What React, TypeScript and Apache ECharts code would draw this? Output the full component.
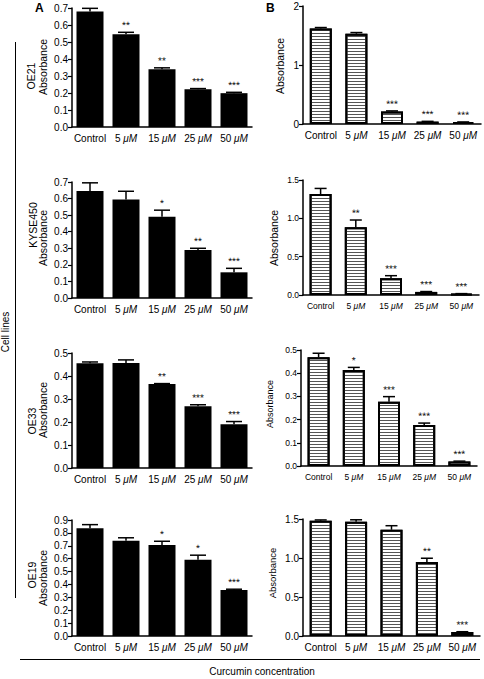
import React, { useEffect, useRef } from "react";
import * as echarts from "echarts";

const categories = ["Control", "5 μM", "15 μM", "25 μM", "50 μM"];

// Panel A (black bars): MTT absorbance
const oe21A = [0.68, 0.545, 0.34, 0.222, 0.199];
const oe21AErr = [0.018, 0.012, 0.008, 0.004, 0.005];
const oe21AStars = ["", "**", "**", "***", "***"];

const kyseA = [0.645, 0.594, 0.49, 0.29, 0.155];
const kyseAErr = [0.05, 0.05, 0.04, 0.01, 0.024];
const kyseAStars = ["", "", "*", "**", "***"];

const oe33A = [0.455, 0.457, 0.365, 0.268, 0.19];
const oe33AErr = [0.006, 0.013, 0.002, 0.007, 0.012];
const oe33AStars = ["", "", "**", "***", "***"];

const oe19A = [0.836, 0.739, 0.706, 0.592, 0.357];
const oe19AErr = [0.028, 0.023, 0.029, 0.035, 0.006];
const oe19AStars = ["", "", "*", "*", "***"];

// Panel B (striped bars)
const oe21B = [1.62, 1.53, 0.21, 0.04, 0.03];
const oe21BErr = [0.015, 0.02, 0.012, 0.005, 0.005];
const oe21BStars = ["", "", "***", "***", "***"];

const kyseB = [1.317, 0.883, 0.217, 0.04, 0.015];
const kyseBErr = [0.073, 0.095, 0.035, 0.005, 0.003];
const kyseBStars = ["", "**", "***", "***", "***"];

const oe33B = [0.469, 0.414, 0.277, 0.177, 0.019];
const oe33BErr = [0.017, 0.011, 0.022, 0.008, 0.002];
const oe33BStars = ["", "*", "***", "***", "***"];

const oe19B = [1.478, 1.465, 1.362, 0.95, 0.052];
const oe19BErr = [0.01, 0.025, 0.052, 0.047, 0.003];
const oe19BStars = ["", "", "", "**", "***"];

const cellLines = ["OE21", "KYSE450", "OE33", "OE19"];

// y-axis ranges per panel
const yMaxA = [0.7, 0.7, 0.5, 0.9];
const yStepA = [0.1, 0.1, 0.1, 0.1];
const yMaxB = [2, 1.5, 0.5, 1.5];
const yStepB = [1, 0.5, 0.1, 0.5];

const FONT = "Liberation Sans, Arial, Helvetica, sans-serif";

export default function App() {
  const ref = useRef<HTMLDivElement>(null);

  useEffect(() => {
    if (!ref.current) return;
    document.body.style.margin = "0";
    const chart = echarts.init(ref.current, undefined, { renderer: "svg" });

    const panels = [
      { v: oe21A, e: oe21AErr, s: oe21AStars, col: "A", row: 0 },
      { v: kyseA, e: kyseAErr, s: kyseAStars, col: "A", row: 1 },
      { v: oe33A, e: oe33AErr, s: oe33AStars, col: "A", row: 2 },
      { v: oe19A, e: oe19AErr, s: oe19AStars, col: "A", row: 3 },
      { v: oe21B, e: oe21BErr, s: oe21BStars, col: "B", row: 0 },
      { v: kyseB, e: kyseBErr, s: kyseBStars, col: "B", row: 1 },
      { v: oe33B, e: oe33BErr, s: oe33BStars, col: "B", row: 2 },
      { v: oe19B, e: oe19BErr, s: oe19BStars, col: "B", row: 3 },
    ];

    const gridsA = [
      { left: 72, top: 8, width: 180, height: 119 },
      { left: 72, top: 182, width: 180, height: 116 },
      { left: 72, top: 353, width: 180, height: 115 },
      { left: 72, top: 520, width: 180, height: 116 },
    ];
    const gridsB = [
      { left: 303, top: 6, width: 178, height: 118 },
      { left: 303, top: 180, width: 176, height: 115 },
      { left: 301, top: 350, width: 176, height: 116 },
      { left: 303, top: 519, width: 177, height: 117 },
    ];
    const fontA = [10, 10, 10, 10];
    const fontB = [10, 8.5, 8.5, 10];

    const grid: any[] = [];
    const xAxis: any[] = [];
    const yAxis: any[] = [];
    const series: any[] = [];

    panels.forEach((p, i) => {
      const isA = p.col === "A";
      const g = isA ? gridsA[p.row] : gridsB[p.row];
      const fs = isA ? fontA[p.row] : fontB[p.row];
      const yMax = isA ? yMaxA[p.row] : yMaxB[p.row];
      const yStep = isA ? yStepA[p.row] : yStepB[p.row];
      const decimals = isA ? 1 : p.row === 0 ? 0 : 1;
      grid.push({ ...g, containLabel: false });
      xAxis.push({
        type: "category",
        gridIndex: i,
        data: categories,
        axisLine: { lineStyle: { color: "#000", width: 1.5 } },
        axisTick: { alignWithLabel: true, length: 4, lineStyle: { color: "#000", width: 1.2 } },
        axisLabel: {
          color: "#000",
          fontSize: fs,
          fontFamily: FONT,
          margin: 6,
          interval: 0,
          formatter: (val: string) => {
            const parts = val.split(" ");
            return parts.length > 1 ? `${parts[0]} {i|${parts[1]}}` : val;
          },
          rich: { i: { fontStyle: "italic", fontSize: fs, fontFamily: FONT, color: "#000" } },
        },
      });
      yAxis.push({
        type: "value",
        gridIndex: i,
        min: 0,
        max: yMax,
        interval: yStep,
        splitLine: { show: false },
        axisLine: { show: true, lineStyle: { color: "#000", width: 1.5 } },
        axisTick: { show: true, length: 4, lineStyle: { color: "#000", width: 1.2 } },
        axisLabel: {
          color: "#000",
          fontSize: fs,
          fontFamily: FONT,
          margin: 4,
          formatter: (v: number) => v.toFixed(decimals),
        },
      });
      series.push({
        type: "bar",
        xAxisIndex: i,
        yAxisIndex: i,
        data: p.v,
        barWidth: isA ? 27 : 22,
        itemStyle: isA
          ? { color: "#000" }
          : {
              color: "#fff",
              borderColor: "#000",
              borderWidth: 2,
              decal: {
                symbol: "rect",
                symbolSize: 1,
                dashArrayX: [1, 0],
                dashArrayY: [1, 2],
                rotation: 0,
                color: "#555",
              },
            },
        z: 2,
      });
      const capHalf = isA ? 8 : 6;
      series.push({
        type: "custom",
        xAxisIndex: i,
        yAxisIndex: i,
        z: 3,
        itemStyle: { color: "#000" },
        data: p.v.map((v, k) => [k, v, p.e[k]]),
        renderItem: (params: any, api: any) => {
          const k = api.value(0);
          const v = api.value(1);
          const e = api.value(2);
          const base = api.coord([k, v]);
          const top = api.coord([k, v + e]);
          const st = p.s[params.dataIndex];
          return {
            type: "group",
            children: [
              {
                type: "line",
                shape: { x1: top[0], y1: base[1], x2: top[0], y2: top[1] },
                style: { stroke: "#000", lineWidth: 1.5 },
              },
              {
                type: "line",
                shape: { x1: top[0] - capHalf, y1: top[1], x2: top[0] + capHalf, y2: top[1] },
                style: { stroke: "#000", lineWidth: 1.5 },
              },
              {
                type: "text",
                x: top[0],
                y: top[1] - 2,
                rotation: 0.002,
                style: {
                  text: st,
                  textAlign: "center",
                  textVerticalAlign: "bottom",
                  fontSize: 10,
                  fontFamily: FONT,
                  fill: "#000",
                },
              },
            ],
          };
        },
      });
    });

    const rotText = (text: string, x: number, y: number, size: number) => ({
      type: "text",
      x,
      y,
      rotation: Math.PI / 2,
      style: {
        text,
        textAlign: "center",
        textVerticalAlign: "middle",
        fontSize: size,
        fontFamily: FONT,
        fill: "#000",
      },
    });

    const rowLabelPos = [
      [31, 76],
      [33, 225],
      [32, 421],
      [32, 575],
    ];
    const absA = [67, 238, 410, 578];
    const absB: number[][] = [
      [280, 66, 10.5],
      [274, 238, 10.5],
      [270, 404, 9],
      [272, 573, 9.5],
    ];

    const graphic: any[] = [
      {
        type: "text",
        x: 35,
        y: 2,
        style: { text: "A", fontSize: 12, fontWeight: "bold", fontFamily: FONT, fill: "#000" },
      },
      {
        type: "text",
        x: 266,
        y: 2,
        style: { text: "B", fontSize: 12, fontWeight: "bold", fontFamily: FONT, fill: "#000" },
      },
      {
        type: "line",
        shape: { x1: 15.5, y1: 42, x2: 15.5, y2: 598 },
        style: { stroke: "#000", lineWidth: 1 },
      },
      rotText("Cell lines", 5, 332, 10),
      {
        type: "line",
        shape: { x1: 20, y1: 659.5, x2: 480, y2: 659.5 },
        style: { stroke: "#000", lineWidth: 1 },
      },
      {
        type: "text",
        x: 262,
        y: 671,
        style: {
          text: "Curcumin concentration",
          textAlign: "center",
          textVerticalAlign: "middle",
          fontSize: 10,
          fontFamily: FONT,
          fill: "#000",
        },
      },
    ];
    cellLines.forEach((name, r) => {
      graphic.push(rotText(name, rowLabelPos[r][0], rowLabelPos[r][1], 10.5));
      graphic.push(rotText("Absorbance", 43, absA[r], 10.5));
      graphic.push(rotText("Absorbance", absB[r][0], absB[r][1], absB[r][2]));
    });

    chart.setOption({
      animation: false,
      backgroundColor: "#fff",
      grid,
      xAxis,
      yAxis,
      series,
      graphic,
    });

    return () => chart.dispose();
  }, []);

  return (
    <div
      ref={ref}
      style={{ position: "absolute", left: 0, top: 0, width: 484, height: 679 }}
    />
  );
}
